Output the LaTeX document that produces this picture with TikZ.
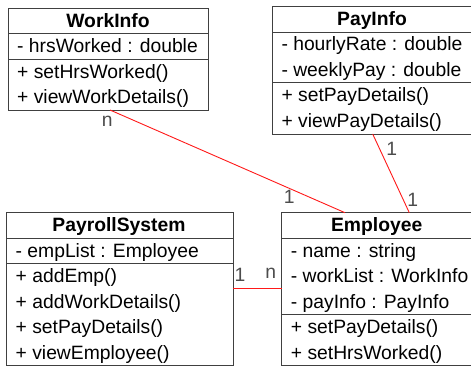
\documentclass[tikz,border=0pt]{standalone}
\usepackage{fontspec}
\setmainfont{Liberation Sans}
\begin{document}
\begin{tikzpicture}[x=1pt,y=-1pt,
  classbox/.style={draw=black!75,line width=1pt,inner sep=0pt,outer sep=0pt,anchor=north west},
  sepline/.style={draw=black!75,line width=1pt},
  txt/.style={inner sep=0pt,anchor=base west,font=\fontsize{19.3}{23}\selectfont},
  ttl/.style={inner sep=0pt,anchor=base,font=\fontsize{19.3}{23}\selectfont\bfseries},
  assoc/.style={draw=red!90!white,line width=0.9pt},
  mult/.style={inner sep=0pt,anchor=center,text=black!70,font=\fontsize{19.3}{23}\selectfont}]
\useasboundingbox (0,0) rectangle (471,369);
\fill[white] (0,0) rectangle (471,369);

% ---------- WorkInfo ----------
\node[classbox,minimum width=199.7pt,minimum height=101.7pt] (work) at (8.3,8.3) {};
\draw[sepline] (8.3,33.3) -- (208,33.3);
\draw[sepline] (8.3,59.3) -- (208,59.3);
\node[ttl] (workT) at (108,27.3) {WorkInfo};
\node[txt] (workA1) at (17,52.7) {- hrsWorked : double};
\node[txt] (workM1) at (17,78.3) {+ setHrsWorked()};
\node[txt] (workM2) at (17,103.6) {+ viewWorkDetails()};

% ---------- PayInfo ----------
\node[classbox,minimum width=200pt,minimum height=127.3pt] (pay) at (272.3,6.7) {};
\draw[sepline] (272.3,32.3) -- (472.3,32.3);
\draw[sepline] (272.3,82.7) -- (472.3,82.7);
\node[ttl] (payT) at (372,25.3) {PayInfo};
\node[txt] (payA1) at (281.3,51) {- hourlyRate : double};
\node[txt] (payA2) at (281.3,76.5) {- weeklyPay : double};
\node[txt] (payM1) at (281.3,101.7) {+ setPayDetails()};
\node[txt] (payM2) at (281.3,127.5) {+ viewPayDetails()};

% ---------- PayrollSystem ----------
\node[classbox,minimum width=226.6pt,minimum height=153pt] (sys) at (6.7,212.7) {};
\draw[sepline] (6.7,238) -- (233.3,238);
\draw[sepline] (6.7,263.3) -- (233.3,263.3);
\node[ttl] (sysT) at (119,231.7) {PayrollSystem};
\node[txt] (sysA1) at (15.5,257.3) {- empList : Employee};
\node[txt] (sysM1) at (15.5,282.7) {+ addEmp()};
\node[txt] (sysM2) at (15.5,308.3) {+ addWorkDetails()};
\node[txt] (sysM3) at (15.5,333.5) {+ setPayDetails()};
\node[txt] (sysM4) at (15.5,359) {+ viewEmployee()};

% ---------- Employee ----------
\node[classbox,minimum width=191pt,minimum height=153pt] (emp) at (281.7,212.7) {};
\draw[sepline] (281.7,238) -- (472.7,238);
\draw[sepline] (281.7,314) -- (472.7,314);
\node[ttl] (empT) at (376.7,231.7) {Employee};
\node[txt] (empA1) at (290.7,257.3) {- name : string};
\node[txt] (empA2) at (290.7,282.7) {- workList : WorkInfo};
\node[txt] (empA3) at (290.7,308.3) {- payInfo : PayInfo};
\node[txt] (empM1) at (290.7,333.5) {+ setPayDetails()};
\node[txt] (empM2) at (290.7,359) {+ setHrsWorked()};

% ---------- associations ----------
\draw[assoc] ([xshift=101.7pt]work.south west) -- ([xshift=63.3pt]emp.north west);
\draw[assoc] ([xshift=100.4pt]pay.south west) -- ([xshift=127.6pt]emp.north west);
\draw[assoc] ([yshift=-76pt]sys.north east) -- ([yshift=-76pt]emp.north west);

% ---------- multiplicities ----------
\node[mult] (m1) at (107.3,121) {n};
\node[mult] (m2) at (289.3,196.5) {1};
\node[mult] (m3) at (391.7,148.5) {1};
\node[mult] (m4) at (412.7,199.5) {1};
\node[mult] (m5) at (240,274.5) {1};
\node[mult] (m6) at (270.7,273) {n};
\end{tikzpicture}
\end{document}
